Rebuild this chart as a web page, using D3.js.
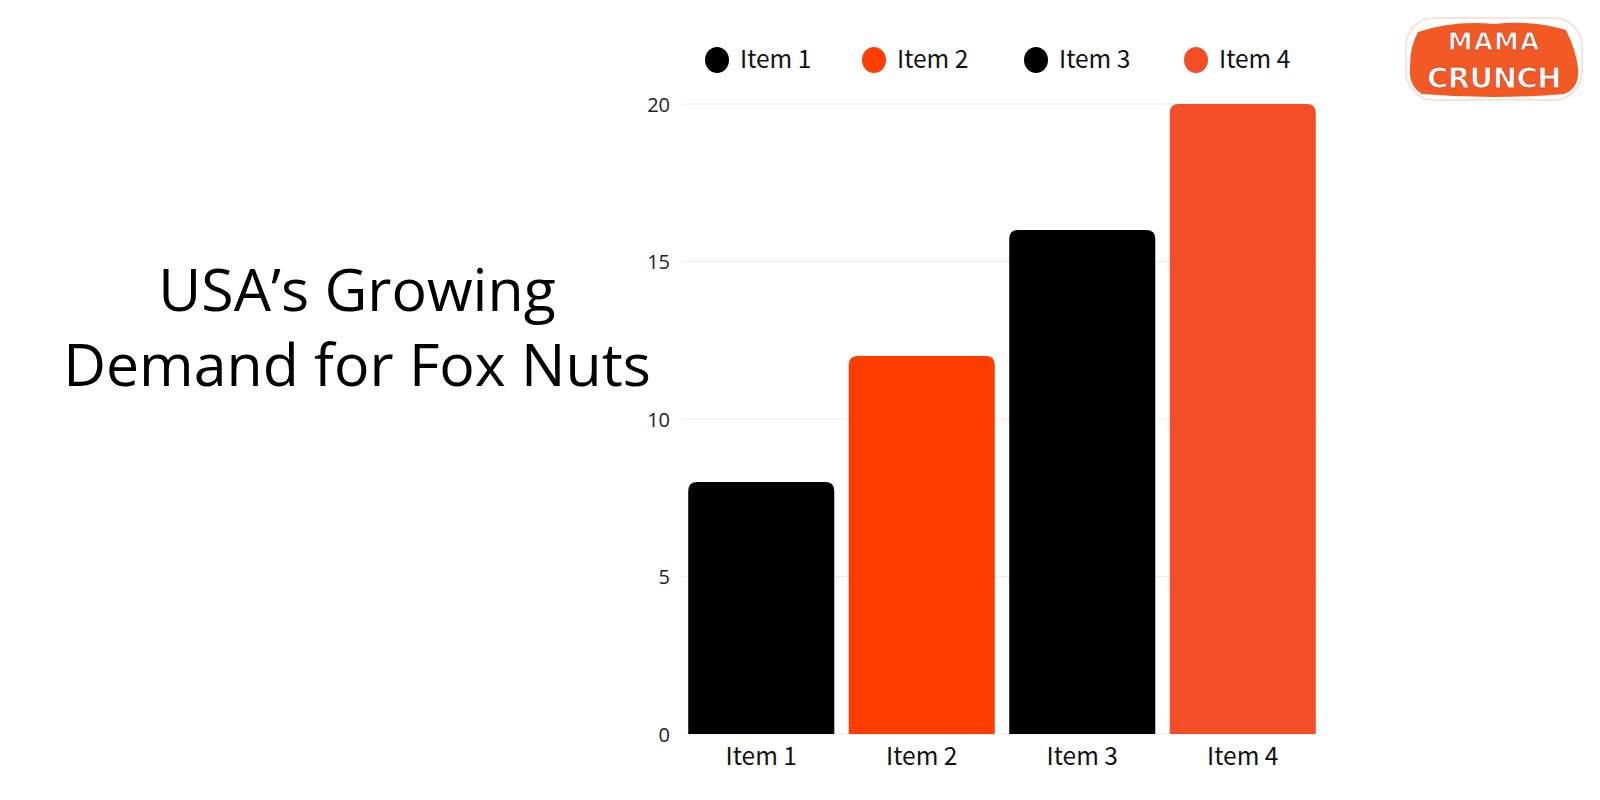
<!DOCTYPE html>
<html><head><meta charset="utf-8">
<script src="https://cdn.jsdelivr.net/npm/d3@7"></script>
<style>
html,body{margin:0;padding:0;background:#fff;}
svg{display:block;}
</style></head>
<body>
<svg id="chart" width="1600" height="800"></svg>
<script>
const categories = ["Item 1", "Item 2", "Item 3", "Item 4"];
const values = [8, 12, 16, 20];
const colors = ["#000000", "#FF3D00", "#000000", "#F24D26"];
const yTicks = [0, 5, 10, 15, 20];
const titleLines = ["USA\u2019s Growing", "Demand for Fox Nuts"];
const logoLines = ["MAMA", "CRUNCH"];

const svg = d3.select("#chart");
const labelFont = "'Noto Sans CJK SC', 'Noto Sans', sans-serif";

const x = d3.scaleBand().domain(categories).range([681, 1323]).paddingInner(0.09).paddingOuter(0.045);
const y = d3.scaleLinear().domain([0, 20]).range([734, 104]);

// gridlines
svg.append("g").selectAll("line").data(yTicks).join("line")
  .attr("x1", 682).attr("x2", 1323)
  .attr("y1", d => y(d)).attr("y2", d => y(d))
  .attr("stroke", "#ececec").attr("stroke-width", 1);

// y axis
const yAxis = d3.axisLeft(y).tickValues(yTicks).tickSize(0).tickPadding(0);
const gy = svg.append("g").attr("transform", "translate(670,0)").call(yAxis);
gy.select(".domain").remove();
gy.selectAll("text").attr("font-family", "'Open Sans', sans-serif").attr("font-size", 20).attr("fill", "#222").attr("dy", "0.35em");

// bars with rounded top corners
const r = 9;
function barPath(d, i) {
  const x0 = x(categories[i]), w = x.bandwidth();
  const yt = y(d), yb = y(0);
  return `M${x0},${yb} L${x0},${yt + r} Q${x0},${yt} ${x0 + r},${yt} L${x0 + w - r},${yt} Q${x0 + w},${yt} ${x0 + w},${yt + r} L${x0 + w},${yb} Z`;
}
svg.append("g").selectAll("path").data(values).join("path")
  .attr("d", barPath).attr("fill", (d, i) => colors[i]);

// x axis
const xAxis = d3.axisBottom(x).tickSize(0).tickPadding(0);
const gx = svg.append("g").attr("transform", `translate(0,${y(0)})`).call(xAxis);
gx.select(".domain").remove();
gx.selectAll("text").attr("font-family", labelFont).attr("font-size", 24.5).attr("fill", "#111").attr("dy", "0").attr("y", 31);

// legend
const legendX = [717, 874, 1036, 1196];
const lg = svg.append("g").selectAll("g").data(categories).join("g")
  .attr("transform", (d, i) => `translate(${legendX[i]},60)`);
lg.append("ellipse").attr("rx", 12).attr("ry", 13).attr("fill", (d, i) => colors[i]);
lg.append("text").attr("x", 23).attr("y", 8).text(d => d)
  .attr("font-family", labelFont).attr("font-size", 24.5).attr("fill", "#111");

// title
svg.append("g").selectAll("text").data(titleLines).join("text")
  .attr("x", 357).attr("y", (d, i) => [311, 386][i])
  .attr("text-anchor", "middle")
  .attr("font-family", "'Open Sans', sans-serif").attr("font-size", 59).attr("font-weight", 400)
  .attr("fill", "#000").text(d => d);

// logo
const logo = svg.append("g").attr("transform", "translate(1494,58)");
logo.append("rect").attr("x", -88).attr("y", -40).attr("width", 176).attr("height", 82).attr("rx", 28)
  .attr("fill", "#fff").attr("stroke", "#fbe3d8").attr("stroke-width", 2);
logo.append("path").attr("d", "M-76,-26 Q-40,-38 0,-34 Q40,-38 72,-28 Q82,-8 84,10 Q86,30 70,36 Q0,42 -72,36 Q-86,28 -84,8 Q-84,-12 -76,-26 Z")
  .attr("fill", "#F15A24");
logo.selectAll("text").data(logoLines).join("text")
  .attr("x", 0).attr("y", (d, i) => [-8, 30][i])
  .attr("text-anchor", "middle")
  .attr("font-family", "'DejaVu Sans', sans-serif").attr("font-weight", 700)
  .attr("font-size", (d, i) => [25, 29][i])
  .attr("letter-spacing", (d, i) => [1, -0.5][i])
  .attr("fill", "#fff").attr("stroke", "#E8461A").attr("stroke-width", 1)
  .text(d => d);
</script>
</body></html>
